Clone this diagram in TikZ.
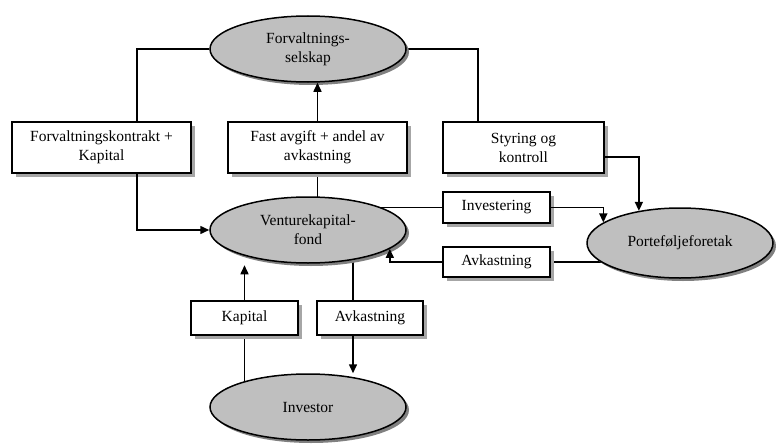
\documentclass[tikz,border=0pt]{standalone}
\usepackage{fontspec}
\setmainfont{Liberation Serif}
\usetikzlibrary{shapes,arrows.meta,shadows,backgrounds}

\begin{document}
\begin{tikzpicture}[x=1pt,y=-1pt,
    font=\fontsize{15.5}{19}\selectfont,
    line width=1.5pt,
    >={Triangle[length=9pt,width=8pt]},
    strek/.style={line width=1.5pt},
    pil/.style={->,line width=1.5pt},
    rund/.style={ellipse,draw,fill=gray!50,inner sep=0pt,align=center,
        drop shadow={shadow xshift=3pt,shadow yshift=-3pt,fill=gray,opacity=1}},
    boks/.style={rectangle,draw,fill=white,inner sep=0pt,align=center,
        drop shadow={shadow xshift=4pt,shadow yshift=-4pt,fill=gray!70,opacity=1}}]
    \useasboundingbox (0,0) rectangle (776,444);

    % Draw the ellipses
    \node [rund,minimum width=196pt,minimum height=66pt] (fs) at (308,49) {Forvaltnings-\\selskap};
    \node [rund,minimum width=196pt,minimum height=66pt] (vf) at (308,230) {Venturekapital-\\fond};
    \node [rund,minimum width=196pt,minimum height=66pt] (inv) at (308,407) {Investor};
    \node [rund,minimum width=186pt,minimum height=70pt] (pf) at (680,243) {Porteføljeforetak};

    % Draw the boxes
    \node [boks,minimum width=179pt,minimum height=51pt] (kontrakt) at (101.5,147.5) {Forvaltningskontrakt +\\Kapital};
    \node [boks,minimum width=179pt,minimum height=51pt] (avgift) at (317.5,147.5) {Fast avgift + andel av\\avkastning};
    \node [boks,minimum width=161pt,minimum height=51pt] (styring) at (523.5,147.5) {Styring og\\kontroll};
    \node [boks,minimum width=107pt,minimum height=31pt] (investering) at (496.5,207.5) {Investering};
    \node [boks,minimum width=107pt,minimum height=30pt] (avk2) at (496.5,262) {Avkastning};
    \node [boks,minimum width=107pt,minimum height=34pt] (kapital) at (244.5,318) {Kapital};
    \node [boks,minimum width=106pt,minimum height=34pt] (avk1) at (370,318) {Avkastning};

    % Draw the plain lines
    \begin{pgfonlayer}{background}
        \draw [strek] (fs.west) -| ([xshift=35.5pt]kontrakt.north);
        \draw [strek] (avgift.south) -- (avgift.south |- vf.center);
        \draw [strek] (fs.east) -| ([xshift=-45.5pt]styring.north);
        \draw [strek] (investering.west) -- (investering.west -| vf.center);
        \draw [strek] (avk2.east) -- (avk2.east -| pf.center);
        \draw [strek] (kapital.south) -- (kapital.south |- inv.center);
        \draw [strek] ([xshift=-17pt]avk1.north) -- ([xshift=-17pt]avk1.north |- vf.center);
    \end{pgfonlayer}

    % Draw the arrows
    \draw [pil] ([xshift=35.5pt]kontrakt.south) |- (vf.west);
    \draw [pil] (avgift.north) -- (avgift.north |- fs.south);
    \draw [pil] ([yshift=-9.5pt]styring.east) -| (pf.142);
    \draw [pil] (investering.east) -| (pf.165);
    \draw [pil] (avk2.west) -| (vf.-13);
    \draw [pil] (kapital.north) -- ++(0,-35);
    \draw [pil] ([xshift=-17pt]avk1.south) -- ([xshift=-17pt]avk1.south |- inv.north);

\end{tikzpicture}
\end{document}
